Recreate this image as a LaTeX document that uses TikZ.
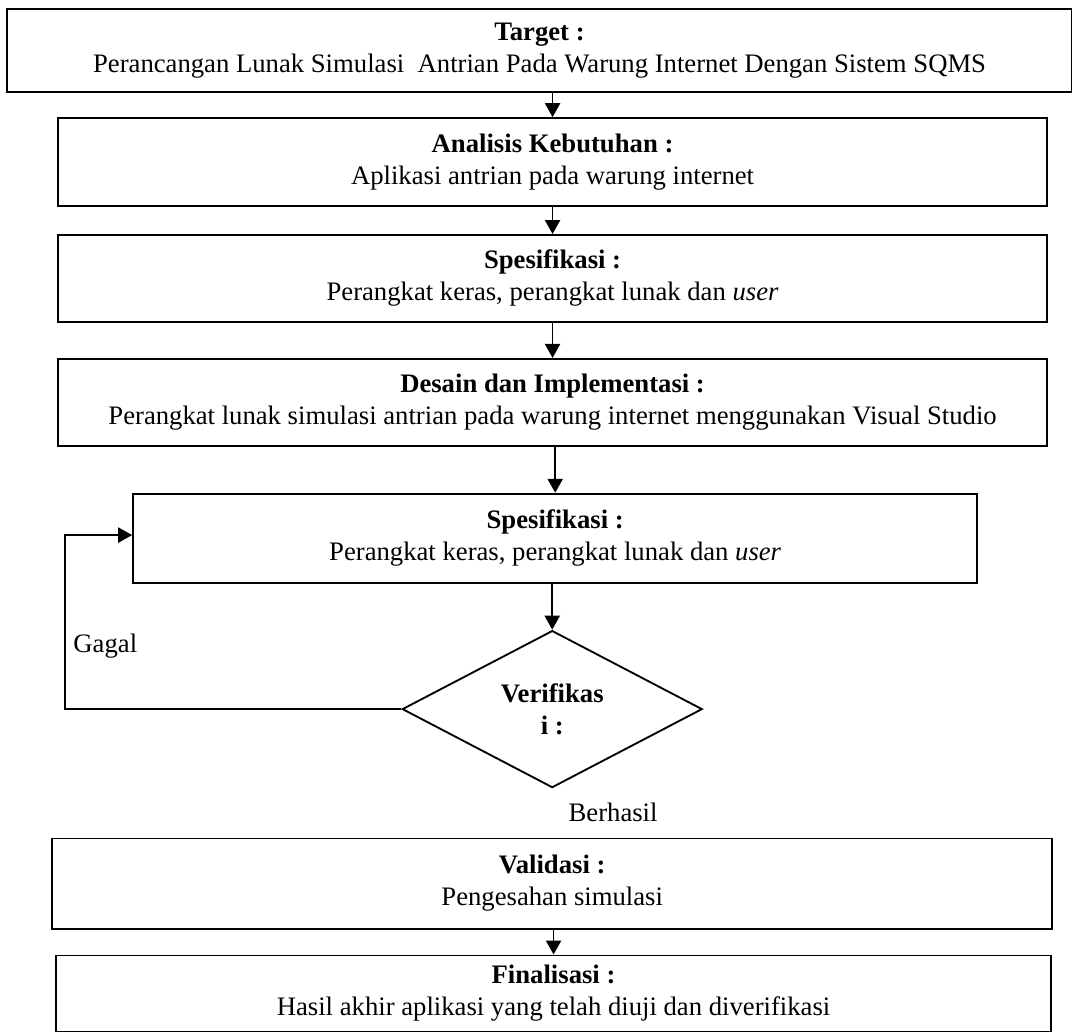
\documentclass[tikz,border=0pt]{standalone}
\usepackage{fontspec}
\setmainfont{Liberation Serif}
\usetikzlibrary{shapes.geometric, arrows.meta, positioning}

\begin{document}
\begin{tikzpicture}[
    % ── Global ──
    font=\fontsize{11.5}{13.8}\selectfont,
    % ── Node Styles ──
    stagebox/.style={
        rectangle, draw=black, line width=0.8pt,
        align=center, inner sep=3pt, fill=white
    },
    decision/.style={
        diamond, aspect=1.9, draw=black, line width=0.8pt,
        minimum width=4.545cm, minimum height=2.379cm,
        align=center, inner sep=0pt,
        font=\fontsize{11.5}{13.8}\selectfont\bfseries
    },
    arrow/.style={-{Triangle[length=6pt, width=6.5pt]}, line width=0.8pt, draw=black},
    lbl/.style={inner sep=0pt},
]

% page frame
\useasboundingbox (0,0) rectangle (16.24,-15.64);

% ════════════════════════════════════════════════════════
%  STAGES (top to bottom)
% ════════════════════════════════════════════════════════

\node (analisis) [stagebox, minimum width=14.985cm, minimum height=1.333cm]
    at (8.371,-2.455)
    {\textbf{Analisis Kebutuhan :}\\Aplikasi antrian pada warung internet};

\node (target) [stagebox, minimum width=16.14cm, minimum height=1.258cm,
    above=0.364cm of analisis, xshift=-0.197cm]
    {\textbf{Target :}\\Perancangan Lunak Simulasi\ \ Antrian Pada Warung Internet Dengan Sistem SQMS};

\node (spes1) [stagebox, minimum width=14.985cm, minimum height=1.318cm,
    below=0.409cm of analisis]
    {\textbf{Spesifikasi :}\\Perangkat keras, perangkat lunak dan \textit{user}};

\node (desain) [stagebox, minimum width=14.985cm, minimum height=1.318cm,
    below=0.531cm of spes1]
    {\textbf{Desain dan Implementasi :}\\Perangkat lunak simulasi antrian pada warung internet menggunakan Visual Studio};

\node (spes2) [stagebox, minimum width=12.79cm, minimum height=1.349cm,
    below=0.697cm of desain, xshift=0.04cm]
    {\textbf{Spesifikasi :}\\Perangkat keras, perangkat lunak dan \textit{user}};

\node (verif) [decision, below=0.697cm of spes2, xshift=-0.045cm]
    {Verifikas\\i :};

\node (valid) [stagebox, minimum width=15.152cm, minimum height=1.364cm,
    below=0.743cm of verif]
    {\textbf{Validasi :}\\Pengesahan simulasi};

\node (final) [stagebox, minimum width=15.076cm, minimum height=1.152cm,
    below=0.379cm of valid, xshift=0.02cm]
    {\textbf{Finalisasi :}\\Hasil akhir aplikasi yang telah diuji dan diverifikasi};

% ════════════════════════════════════════════════════════
%  LABELS
% ════════════════════════════════════════════════════════

\node (gagal) [lbl, anchor=west] at (1.106,-9.788) {Gagal};
\node (berhasil) [lbl] at (9.288,-12.303) {Berhasil};

% ════════════════════════════════════════════════════════
%  ARROWS
% ════════════════════════════════════════════════════════

\draw [arrow] (analisis.north |- target.south) -- (analisis.north);
\draw [arrow] (analisis) -- (spes1);
\draw [arrow] (spes1) -- (desain);
\draw [arrow] (spes2.north |- desain.south) -- (spes2.north);
\draw [arrow] (verif.north |- spes2.south) -- (verif.north);
\draw [arrow] (final.north |- valid.south) -- (final.north);

% Gagal loop back to the second specification
\coordinate (loopTop) at (0.985,-8.106);
\draw [arrow] (verif.west) -| (loopTop) -- (loopTop -| spes2.west);

\end{tikzpicture}
\end{document}
